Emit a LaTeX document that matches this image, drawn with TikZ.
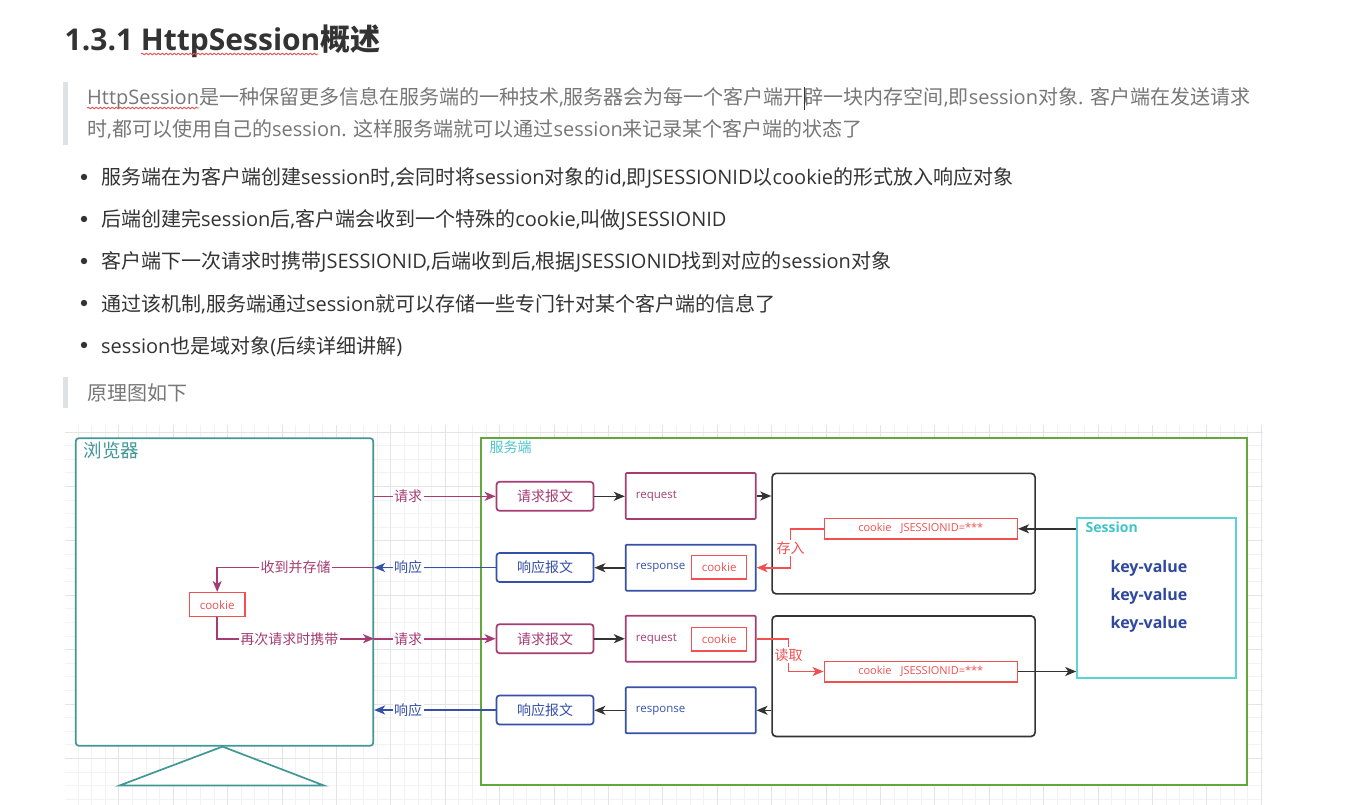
\documentclass[tikz,border=0pt]{standalone}
\usepackage{fontspec}
\setmainfont{Open Sans}
\newfontfamily\cjkfam{Noto Sans CJK SC}
\usetikzlibrary{arrows.meta,decorations.pathmorphing}

% Han characters are set in the CJK family, everything else in Open Sans
\XeTeXinterchartokenstate=1
\chardef\cjkcls=10
\newcount\cjkc
\cjkc="4E00
\loop
  \XeTeXcharclass\cjkc=\cjkcls
  \advance\cjkc by 1
\ifnum\cjkc<"A000 \repeat
\XeTeXinterchartoks 0 \cjkcls = {\cjkfam}
\XeTeXinterchartoks 4095 \cjkcls = {\cjkfam}
\XeTeXinterchartoks \cjkcls 0 = {\rmfamily}
\XeTeXinterchartoks \cjkcls 4095 = {\rmfamily}

\definecolor{txtc}{RGB}{51,51,51}
\definecolor{quotec}{RGB}{119,119,119}
\definecolor{barc}{RGB}{223,226,229}
\definecolor{gridmin}{RGB}{242,242,242}
\definecolor{gridmaj}{RGB}{228,228,228}
\definecolor{teal1}{RGB}{64,152,150}
\definecolor{green1}{RGB}{98,168,60}
\definecolor{cyanlab}{RGB}{78,196,204}
\definecolor{purp}{RGB}{166,60,116}
\definecolor{blue1}{RGB}{54,80,168}
\definecolor{red1}{RGB}{240,80,80}
\definecolor{dark1}{RGB}{51,51,51}
\definecolor{sesc}{RGB}{90,212,214}
\definecolor{sestxt}{RGB}{64,196,200}
\definecolor{kvc}{RGB}{46,72,158}

\tikzset{
  body/.style={anchor=base west, inner sep=0pt, font=\fontsize{20}{24}\selectfont},
  spell/.style={red1, line width=0.8pt, decorate,
    decoration={snake, amplitude=0.9pt, segment length=4pt}},
  lw/.style={line width=1.6pt},
  tip/.style={-{Stealth[length=11pt,width=9pt,inset=3pt]}},
  lab/.style={fill=white, inner sep=1.5pt, font=\fontsize{14}{16}\selectfont},
  msgbox/.style={draw, line width=1.7pt, rounded corners=3pt, inner sep=0pt,
    minimum width=97pt, minimum height=29pt, font=\fontsize{14}{16}\selectfont, fill=white},
  objbox/.style={draw, line width=1.7pt, rounded corners=1pt, inner sep=0pt,
    minimum width=130pt, minimum height=46pt, fill=white},
  objtext/.style={anchor=west, inner sep=0pt, font=\fontsize{11.5}{13}\selectfont},
  ckbox/.style={draw=red1, line width=1.5pt, inner sep=0pt, text=red1,
    minimum width=55pt, minimum height=23.5pt, font=\fontsize{11.5}{13}\selectfont, fill=white},
  cjbox/.style={draw=red1, line width=1.5pt, inner sep=0pt, text=red1,
    minimum width=193pt, minimum height=20.5pt, font=\fontsize{11}{13}\selectfont, fill=white},
  blkbox/.style={draw=dark1, line width=1.7pt, rounded corners=4pt, inner sep=0pt,
    minimum width=263pt, minimum height=120.5pt, fill=white},
  kv/.style={inner sep=0pt, text=kvc, font=\fontsize{16}{18}\selectfont\bfseries},
}

\begin{document}
\begin{tikzpicture}[x=1pt, y=-1pt]
\useasboundingbox[fill=white] (0,0) rectangle (1352,805);

% ---- heading ----
\node[anchor=base west, inner sep=0pt, text=txtc, font=\fontsize{30}{36}\selectfont\bfseries]
  (title) at (64.5,51) {1.3.1 HttpSession概述};
\draw[spell] (141,54) -- (318,54);

% ---- first quote ----
\fill[barc] (63,82) rectangle (67.5,145);
\node[body, text=quotec] (q1a) at (87,105)
  {HttpSession是一种保留更多信息在服务端的一种技术,服务器会为每一个客户端开辟一块内存空间,即session对象. 客户端在发送请求};
\node[body, text=quotec] (q1b) at (87,137)
  {时,都可以使用自己的session. 这样服务端就可以通过session来记录某个客户端的状态了};
\draw[spell] (87,108) -- (199,108);
\draw[txtc, line width=0.8pt] (804.5,87) -- (804.5,110);

% ---- bullet list ----
\foreach \k in {0,...,4} \fill[txtc] (84,177+\k*42) circle (3.2);
\node[body, text=txtc] (b1) at (101,185)
  {服务端在为客户端创建session时,会同时将session对象的id,即JSESSIONID以cookie的形式放入响应对象};
\node[body, text=txtc] (b2) at (101,227)
  {后端创建完session后,客户端会收到一个特殊的cookie,叫做JSESSIONID};
\node[body, text=txtc] (b3) at (101,269)
  {客户端下一次请求时携带JSESSIONID,后端收到后,根据JSESSIONID找到对应的session对象};
\node[body, text=txtc] (b4) at (101,311)
  {通过该机制,服务端通过session就可以存储一些专门针对某个客户端的信息了};
\node[body, text=txtc] (b5) at (101,353)
  {session也是域对象(后续详细讲解)};

% ---- second quote ----
\fill[barc] (63,377) rectangle (67.5,408);
\node[body, text=quotec] (q2) at (87,400) {原理图如下};

% ---- canvas grid ----
\begin{scope}
  \clip (65,425) rectangle (1263,805);
  \foreach \i in {-2,...,87}
    \draw[gridmin, line width=1pt] (91.7+\i*13.6,425) -- (91.7+\i*13.6,805);
  \foreach \j in {-1,...,28}
    \draw[gridmin, line width=1pt] (65,432+\j*13.6) -- (1263,432+\j*13.6);
  \foreach \i in {-2,2,...,86}
    \draw[gridmaj, line width=1pt] (91.7+\i*13.6,425) -- (91.7+\i*13.6,805);
  \foreach \j in {0,4,...,28}
    \draw[gridmaj, line width=1pt] (65,432+\j*13.6) -- (1263,432+\j*13.6);
\end{scope}

% ---- browser ----
\node[draw=teal1, line width=1.7pt, rounded corners=3pt, fill=white, inner sep=0pt,
  minimum width=297.5pt, minimum height=307.5pt] (browser) at (224.5,592) {};
\draw[teal1, line width=1.7pt, fill=white, line join=miter]
  ([xshift=-2pt]browser.south) -- (119.5,785.5) -- (324,785.5) -- cycle;
\node[anchor=west, inner sep=0pt, text=teal1, font=\fontsize{18.5}{20}\selectfont]
  (blabel) at (83.5,450.5) {浏览器};
\node[ckbox, minimum width=55.7pt, minimum height=24pt] (bcookie) at (217.2,604.7) {cookie};

% ---- server ----
\node[draw=green1, line width=1.7pt, fill=white, inner sep=0pt,
  minimum width=766pt, minimum height=347pt] (server) at (864,611.5) {};
\node[anchor=west, inner sep=0pt, text=cyanlab, font=\fontsize{14}{16}\selectfont]
  (slabel) at (489.5,447.5) {服务端};

\node[blkbox] (blk1) at (903.6,533.6) {};
\node[blkbox] (blk2) at (903.6,676.2) {};

\node[msgbox, draw=purp, text=purp] (req1) at (545,496.3) {请求报文};
\node[msgbox, draw=blue1, text=blue1] (resp1) at (545,567.5) {响应报文};
\node[msgbox, draw=purp, text=purp] (req2) at (545,638.7) {请求报文};
\node[msgbox, draw=blue1, text=blue1] (resp2) at (545,710) {响应报文};

\node[objbox, draw=purp] (request1) at (690.7,496) {};
\node[objtext, text=purp] (request1t) at (635.7,496) {request};
\node[objbox, draw=blue1] (response1) at (690.7,567.7) {};
\node[objtext, text=blue1] (response1t) at (635.7,567.7) {response};
\node[ckbox] (rcookie1) at (719.2,567) {cookie};

\node[objbox, draw=purp] (request2) at (690.7,638.7) {};
\node[objtext, text=purp] (request2t) at (635.7,638.7) {request};
\node[ckbox] (rcookie2) at (719.2,639) {cookie};
\node[objbox, draw=blue1] (response2) at (690.7,710.3) {};
\node[objtext, text=blue1] (response2t) at (635.7,710.3) {response};

\node[cjbox] (cj1) at (920.8,528.8) {cookie\hspace{9pt}JSESSIONID=***};
\node[cjbox] (cj2) at (920.8,671.5) {cookie\hspace{9pt}JSESSIONID=***};

\node[draw=sesc, line width=1.7pt, fill=white, inner sep=0pt,
  minimum width=159pt, minimum height=160pt] (session) at (1156.6,598.3) {};
\node[anchor=west, inner sep=0pt, text=sestxt, font=\fontsize{14}{16}\selectfont\bfseries]
  (sestitle) at (1085.5,527.5) {Session};
\node[kv] (kv1) at (1149,568) {key-value};
\node[kv] (kv2) at (1149,596) {key-value};
\node[kv] (kv3) at (1149,624) {key-value};

% ---- first exchange ----
\draw[purp, lw, tip] (req1.west -| browser.east) -- node[lab, text=purp, pos=0.28] {请求} (req1.west);
\draw[dark1, lw, tip] (req1.east) -- (req1.east -| request1.west);
\draw[dark1, lw, tip] (request1.east) -- (request1.east -| blk1.west);
\draw[dark1, lw, tip] (session.west |- cj1.east) -- (cj1.east);
\draw[red1, lw, tip] (cj1.west) -| node[lab, text=red1, pos=0.75] {存入}
  ([xshift=34pt]response1.east) -- (response1.east);
\draw[dark1, lw, tip] (response1.west) -- (response1.west -| resp1.east);
\draw[blue1, lw, tip] (resp1.west) -- node[lab, text=blue1, pos=0.72] {响应} (resp1.west -| browser.east);
\draw[purp, lw, tip] (resp1.west -| browser.east) -| node[lab, text=purp, pos=0.25] {收到并存储} (bcookie.north);

% ---- second exchange ----
\draw[purp, lw, tip] (bcookie.south) |- node[lab, text=purp, pos=0.73] {再次请求时携带} (req2.west -| browser.east);
\draw[purp, lw, tip] (req2.west -| browser.east) -- node[lab, text=purp, pos=0.28] {请求} (req2.west);
\draw[dark1, lw, tip] (req2.east) -- (req2.east -| request2.west);
\draw[red1, lw, tip] (request2.east) -| node[lab, text=red1, pos=0.75] {读取}
  ([xshift=-35pt]cj2.west) -- (cj2.west);
\draw[dark1, lw, tip] (cj2.east) -- (cj2.east -| session.west);
\draw[dark1, lw, tip] (blk2.west |- response2.east) -- (response2.east);
\draw[dark1, lw, tip] (response2.west) -- (response2.west -| resp2.east);
\draw[blue1, lw, tip] (resp2.west) -- node[lab, text=blue1, pos=0.72] {响应} (resp2.west -| browser.east);
\end{tikzpicture}
\end{document}
